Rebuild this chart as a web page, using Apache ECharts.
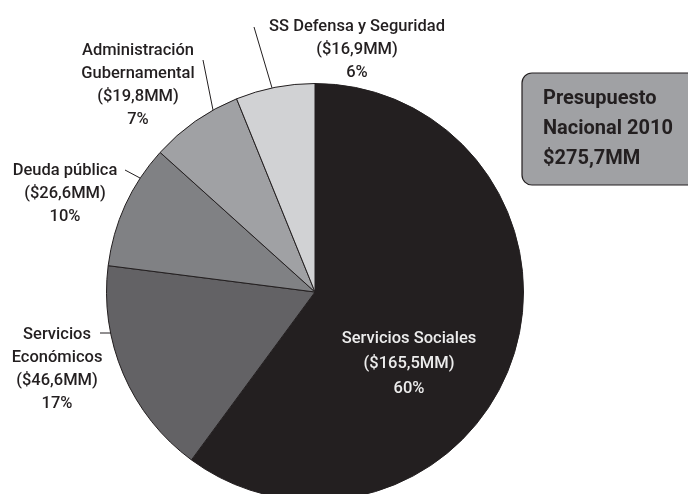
<!DOCTYPE html>
<html><head><meta charset="utf-8">
<script src="https://cdn.jsdelivr.net/npm/echarts@6/dist/echarts.min.js"></script>
<style>html,body{margin:0;padding:0;background:#fff}#c{width:688px;height:494px}</style>
</head><body><div id="c"></div>
<script>
const categories = ['Servicios Sociales', 'Servicios\nEconómicos', 'Deuda pública', 'Administración\nGubernamental', 'SS Defensa y Seguridad'];
const values = [165.5, 46.6, 26.6, 19.8, 16.9];
const totalTitle = ['Presupuesto', 'Nacional 2010', '$275,7MM'];

const sliceColors = ['#231f20', '#636265', '#808184', '#a0a1a4', '#d1d2d4'];
const labelPlaces = [{x: 409, y: 364}, {x: 57, y: 369}, {x: 65, y: 194}, {x: 138, y: 85}, {x: 357, y: 50}];
const leaderLines = [null, [[137, 333], [100, 333]], [[155, 186], [125, 170]], [[216, 125], [203, 60]], [[275, 98], [254, 27]]];

const FONT = 'Roboto';
const chart = echarts.init(document.getElementById('c'), null, {renderer: 'canvas'});

const data = categories.map((name, i) => {
  const item = {name: name, value: values[i], itemStyle: {color: sliceColors[i]}};
  if (i === 0) {
    item.label = {position: 'inside', color: '#ececec', lineHeight: 25};
    item.labelLine = {show: false};
  }
  return item;
});

chart.setOption({
  animation: false,
  backgroundColor: '#ffffff',
  series: [{
    type: 'pie',
    center: [315, 292],
    radius: 208.5,
    startAngle: 90,
    clockwise: true,
    avoidLabelOverlap: false,
    emphasis: {disabled: true},
    itemStyle: {borderColor: '#231f20', borderWidth: 1},
    label: {
      show: true,
      position: 'outside',
      fontFamily: FONT,
      fontWeight: 500,
      fontSize: 16.5,
      lineHeight: 23,
      color: '#231f20',
      align: 'center',
      formatter: p => p.name + '\n($' + p.value.toFixed(1).replace('.', ',') + 'MM)\n' + Math.round(p.percent) + '%'
    },
    labelLine: {show: true, lineStyle: {color: '#231f20', width: 1}},
    labelLayout: params => {
      const i = params.dataIndex;
      const out = {x: labelPlaces[i].x, y: labelPlaces[i].y, align: 'center', verticalAlign: 'middle'};
      if (leaderLines[i]) out.labelLinePoints = leaderLines[i];
      return out;
    },
    data: data
  }],
  graphic: [
    {
      type: 'rect',
      shape: {x: 522, y: 73, width: 200, height: 112, r: 10},
      style: {fill: '#a0a1a4', stroke: '#231f20', lineWidth: 1.2},
      z: 10
    },
    {
      type: 'text',
      x: 543, y: 84,
      style: {
        text: totalTitle.join('\n'),
        fontFamily: FONT, fontWeight: 'bold', fontSize: 20, lineHeight: 30,
        fill: '#231f20', align: 'left', verticalAlign: 'top'
      },
      z: 11
    }
  ]
});
</script>
</body></html>
